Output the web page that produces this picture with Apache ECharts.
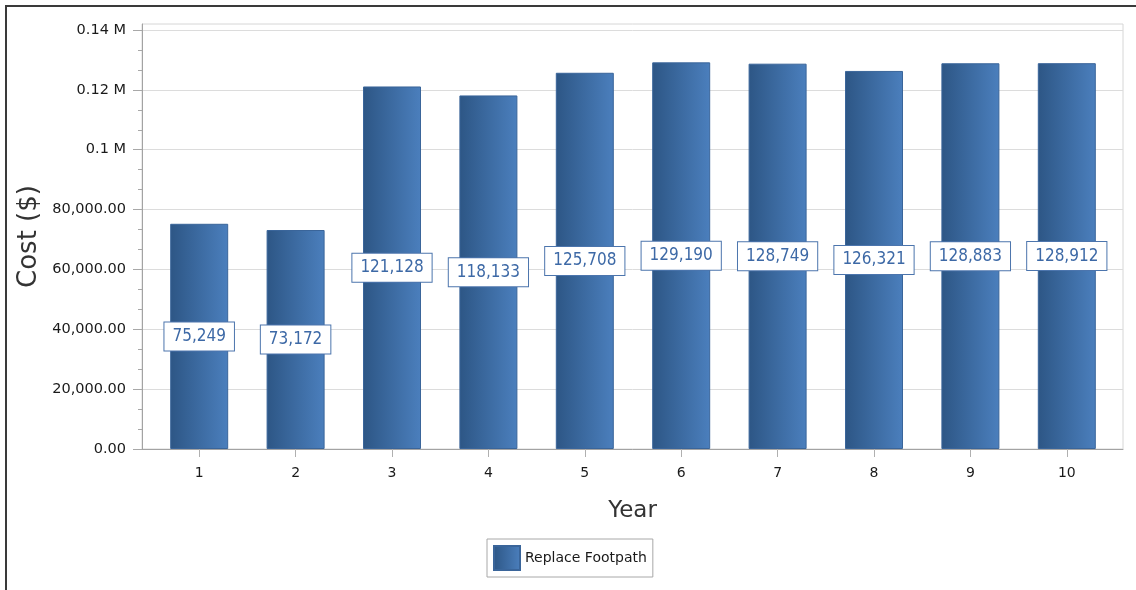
<!DOCTYPE html>
<html>
<head>
<meta charset="utf-8">
<title>Replace Footpath – Cost by Year</title>
<script src="https://cdn.jsdelivr.net/npm/echarts@6/dist/echarts.min.js"></script>
<style>
  html, body { margin: 0; padding: 0; background: #ffffff; }
  #chart { width: 1136px; height: 590px; }
</style>
</head>
<body>
<div id="chart"></div>
<script>
// Yearly cost of the footpath replacement programme
const years = ['1', '2', '3', '4', '5', '6', '7', '8', '9', '10'];
const costs = [75249, 73172, 121128, 118133, 125708, 129190, 128749, 126321, 128883, 128912];
const seriesName = 'Replace Footpath';

const yMax = 140000;
const yStep = 20000;

const axisFont = 'DejaVu Sans, Verdana, sans-serif';
const labelFont = "'DejaVu Sans Condensed', 'Liberation Sans Narrow', sans-serif";

function formatCost(v) {
  if (v >= 100000) return (v / 1e6) + ' M';
  return v.toLocaleString('en-US', { minimumFractionDigits: 2, maximumFractionDigits: 2 });
}

const barFill = new echarts.graphic.LinearGradient(0, 0, 1, 0, [
  { offset: 0, color: '#2d5685' },
  { offset: 1, color: '#4b7fbd' }
]);

const chart = echarts.init(document.getElementById('chart'), null, { renderer: 'canvas' });

chart.setOption({
  animation: false,
  backgroundColor: '#ffffff',
  graphic: [{
    type: 'polyline',
    shape: { points: [[6, 590], [6, 6], [1136, 6]] },
    style: { stroke: '#3a3a3a', lineWidth: 2, fill: null },
    silent: true
  }],
  grid: [
    // outer plot frame
    { left: 142, right: 13, top: 24, bottom: 141, show: true, borderColor: '#d6d6d6', borderWidth: 1, backgroundColor: 'transparent' },
    // value scale with gridlines
    { left: 142, right: 13, top: 30, bottom: 141 },
    // bars and year labels
    { left: 151, right: 21, top: 30, bottom: 141 }
  ],
  xAxis: [
    {
      gridIndex: 0, type: 'value', min: 0, max: 1,
      axisLine: { show: true, lineStyle: { color: '#a3a3a3', width: 1 } },
      axisTick: { show: false }, axisLabel: { show: false }, splitLine: { show: false },
      name: 'Year', nameLocation: 'middle', nameGap: 51,
      nameTextStyle: { fontFamily: axisFont, fontSize: 23, color: '#333333' }
    },
    {
      gridIndex: 1, type: 'value', min: 0, max: 1, show: false
    },
    {
      gridIndex: 2, type: 'category', data: years,
      axisLine: { show: false },
      axisTick: { show: true, alignWithLabel: true, length: 8, lineStyle: { color: '#b0b0b0' } },
      axisLabel: { fontFamily: axisFont, fontSize: 14, color: '#1a1a1a', margin: 17 },
      splitLine: { show: false }
    }
  ],
  yAxis: [
    {
      gridIndex: 0, type: 'value', min: 0, max: 1,
      axisLine: { show: true, lineStyle: { color: '#a3a3a3', width: 1 } },
      axisTick: { show: false }, axisLabel: { show: false }, splitLine: { show: false },
      name: 'Cost ($)', nameLocation: 'middle', nameGap: 100, nameRotate: 90,
      nameTextStyle: { fontFamily: axisFont, fontSize: 26, color: '#333333' }
    },
    {
      gridIndex: 1, type: 'value', min: 0, max: yMax, interval: yStep,
      axisLine: { show: false },
      axisTick: { show: true, length: 9, lineStyle: { color: '#a8a8a8' } },
      minorTick: { show: true, splitNumber: 3, length: 4, lineStyle: { color: '#a8a8a8' } },
      axisLabel: { fontFamily: axisFont, fontSize: 14.5, color: '#1a1a1a', margin: 16, formatter: formatCost },
      splitLine: { show: true, lineStyle: { color: '#dcdcdc', width: 1 } }
    },
    {
      gridIndex: 2, type: 'value', min: 0, max: yMax, show: false
    }
  ],
  legend: {
    data: [seriesName],
    left: 487, top: 539,
    orient: 'horizontal',
    padding: [6, 6, 6, 6],
    borderColor: '#a8a8a8', borderWidth: 1,
    itemWidth: 26, itemHeight: 24,
    icon: 'rect',
    textStyle: { fontFamily: axisFont, fontSize: 14, color: '#1a1a1a' }
  },
  series: [{
    name: seriesName,
    type: 'bar',
    xAxisIndex: 2, yAxisIndex: 2,
    data: costs,
    barWidth: 58,
    itemStyle: { color: barFill, borderColor: '#3a659a', borderWidth: 1 },
    label: {
      show: true,
      position: 'inside',
      formatter: p => p.value.toLocaleString('en-US'),
      fontFamily: labelFont,
      fontSize: 17,
      color: '#3d69a6',
      backgroundColor: '#ffffff',
      borderColor: '#4c75ad',
      borderWidth: 1,
      padding: [6, 8, 5, 8]
    }
  }]
});
</script>
</body>
</html>
